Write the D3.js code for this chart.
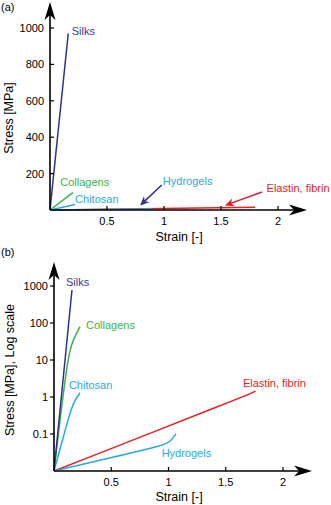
<!DOCTYPE html>
<html lang="en">
<head>
<meta charset="UTF-8" />
<title>Stress-strain of biomaterials</title>
<script src="https://cdn.jsdelivr.net/npm/d3@7"></script>
<style>
  body { margin: 0; background: #fff; }
  svg text { font-family: "Liberation Sans", Arial, Helvetica, sans-serif; }
</style>
</head>
<body>
<script>
// tick values
var xTicks = [0.5, 1, 1.5, 2];
var linTicks = [200, 400, 600, 800, 1000];
var logTicks = [0.1, 1, 10, 100, 1000];

var names = ["Silks", "Collagens", "Chitosan", "Hydrogels", "Elastin, fibrin"];
var colors = ["#2e3192", "#3cb44a", "#29abe2", "#29abe2", "#ed1c24"];

// panel (a): linear stress [MPa] vs strain
var linSilks = [[0, 0], [0.16, 970]];
var linCollagens = [[0, 0], [0.2, 95]];
var linChitosan = [[0, 0], [0.22, 30]];
var linHydrogels = [[0, 0], [0.9, 6]];
var linElastin = [[0, 0], [1.8, 15]];

// panel (b): log stress [MPa] vs strain
var logSilks = [[0, 0.01], [0.157, 780]];
var logCollagens = [[0, 0.01], [0.105, 5.4], [0.14, 18.6], [0.166, 35], [0.227, 80]];
var logChitosan = [[0, 0.01], [0.122, 0.24], [0.166, 0.69], [0.227, 1.3]];
var logHydrogels = [[0, 0.01], [0.5, 0.023], [0.97, 0.05], [1.02, 0.065], [1.065, 0.1]];
var logElastin = [[0, 0.01], [1.69, 1.13], [1.73, 1.3], [1.76, 1.45]];

var width = 331, height = 505;

var svg = d3.select("body").append("svg")
    .attr("width", width)
    .attr("height", height);

function arrowHead(g, x, y, angle, len, half, color) {
  g.append("path")
    .attr("d", "M0,0 L" + (-len) + "," + (-half) + " L" + (-len * 0.72) + ",0 L" + (-len) + "," + half + " Z")
    .attr("transform", "translate(" + x + "," + y + ") rotate(" + angle + ")")
    .attr("fill", color);
}

function drawAxes(g, xScale, yScale, y0, yTicks, yFmt, tickDir, xEnd, yEnd) {
  var x0 = xScale(0);
  // axis lines
  g.append("line").attr("x1", x0).attr("y1", y0).attr("x2", xEnd - 8).attr("y2", y0)
    .attr("stroke", "#000").attr("stroke-width", 1.6);
  g.append("line").attr("x1", x0).attr("y1", y0).attr("x2", x0).attr("y2", yEnd + 8)
    .attr("stroke", "#000").attr("stroke-width", 1.6);
  arrowHead(g, xEnd, y0, 0, 18, 5.5, "#000");
  arrowHead(g, x0, yEnd, -90, 18, 5.5, "#000");

  // x ticks
  g.selectAll(".xt").data(xTicks).enter().append("line")
    .attr("x1", function(d) { return xScale(d); })
    .attr("x2", function(d) { return xScale(d); })
    .attr("y1", y0).attr("y2", y0 - 4)
    .attr("stroke", "#000").attr("stroke-width", 1.2);
  g.selectAll(".xl").data(xTicks).enter().append("text")
    .attr("x", function(d) { return xScale(d); })
    .attr("y", y0 + 15)
    .attr("text-anchor", "middle")
    .attr("font-size", 11)
    .text(function(d) { return d; });

  // y ticks
  g.selectAll(".yt").data(yTicks).enter().append("line")
    .attr("x1", x0).attr("x2", x0 + tickDir * 4)
    .attr("y1", function(d) { return yScale(d); })
    .attr("y2", function(d) { return yScale(d); })
    .attr("stroke", "#000").attr("stroke-width", 1.2);
  g.selectAll(".yl").data(yTicks).enter().append("text")
    .attr("x", x0 - 6)
    .attr("y", function(d) { return yScale(d) + 4; })
    .attr("text-anchor", "end")
    .attr("font-size", 11)
    .text(yFmt);
}

function drawLines(g, xScale, yScale, series, curve) {
  var line = d3.line()
    .x(function(d) { return xScale(d[0]); })
    .y(function(d) { return yScale(d[1]); })
    .curve(curve);
  // draw elastin first so the others sit on top
  [4, 3, 2, 1, 0].forEach(function(i) {
    g.append("path")
      .attr("d", line(series[i]))
      .attr("fill", "none")
      .attr("stroke", colors[i])
      .attr("stroke-width", 1.5);
  });
}

function drawLabels(g, xScale, yScale, pos) {
  g.selectAll(".lab").data(pos).enter().append("text")
    .attr("x", function(d) { return xScale(d[0]); })
    .attr("y", function(d) { return yScale(d[1]); })
    .attr("font-size", 11)
    .attr("fill", function(d, i) { return i == 0 ? "#3a3d98" : colors[i]; })
    .text(function(d, i) { return names[i]; });
}

// ---------- panel (a) ----------
var ga = svg.append("g");
var xA = d3.scaleLinear().domain([0, 2]).range([50, 278]);
var yA = d3.scaleLinear().domain([0, 1000]).range([210, 28]);

drawLines(ga, xA, yA, [linSilks, linCollagens, linChitosan, linHydrogels, linElastin], d3.curveLinear);
drawAxes(ga, xA, yA, yA(0), linTicks, function(d) { return d; }, 1, 307, 2);

drawLabels(ga, xA, yA, [[0.19, 960], [0.09, 132], [0.22, 38], [0.99, 137], [1.9, 99]]);

// pointer arrows for the flat curves
var pointers = [
  { from: [0.98, 137], to: [0.79, 25], color: "#2e3192" },
  { from: [1.86, 99], to: [1.535, 25], color: "#ed1c24" }
];
pointers.forEach(function(p) {
  var x1 = xA(p.from[0]), y1 = yA(p.from[1]);
  var x2 = xA(p.to[0]), y2 = yA(p.to[1]);
  var ang = Math.atan2(y2 - y1, x2 - x1) * 180 / Math.PI;
  ga.append("line").attr("x1", x1).attr("y1", y1)
    .attr("x2", x2 - 6 * Math.cos(ang * Math.PI / 180))
    .attr("y2", y2 - 6 * Math.sin(ang * Math.PI / 180))
    .attr("stroke", p.color).attr("stroke-width", 1.5);
  arrowHead(ga, x2, y2, ang, 9, 4, p.color);
});

ga.append("text").attr("x", 1).attr("y", 11).attr("font-size", 11).text("(a)");
ga.append("text").attr("x", 179).attr("y", 241).attr("text-anchor", "middle")
  .attr("font-size", 12.5).text("Strain [-]");
ga.append("text").attr("transform", "translate(13,118) rotate(-90)")
  .attr("text-anchor", "middle").attr("font-size", 12.5).text("Stress [MPa]");

// ---------- panel (b) ----------
var gb = svg.append("g");
var xB = d3.scaleLinear().domain([0, 2]).range([54, 283]);
var yB = d3.scaleLog().domain([0.01, 1000]).range([471, 286]);

drawLines(gb, xB, yB, [logSilks, logCollagens, logChitosan, logHydrogels, logElastin], d3.curveBasis);
drawAxes(gb, xB, yB, yB(0.01), logTicks, function(d) { return d; }, -1, 312, 262);

drawLabels(gb, xB, yB, [[0.105, 1000], [0.28, 69], [0.13, 1.65], [0.94, 0.024], [1.65, 1.86]]);

gb.append("text").attr("x", 1).attr("y", 256).attr("font-size", 11).text("(b)");
gb.append("text").attr("x", 179).attr("y", 501).attr("text-anchor", "middle")
  .attr("font-size", 12.5).text("Strain [-]");
gb.append("text").attr("transform", "translate(14,370) rotate(-90)")
  .attr("text-anchor", "middle").attr("font-size", 12.5).text("Stress [MPa], Log scale");
</script>
</body>
</html>
